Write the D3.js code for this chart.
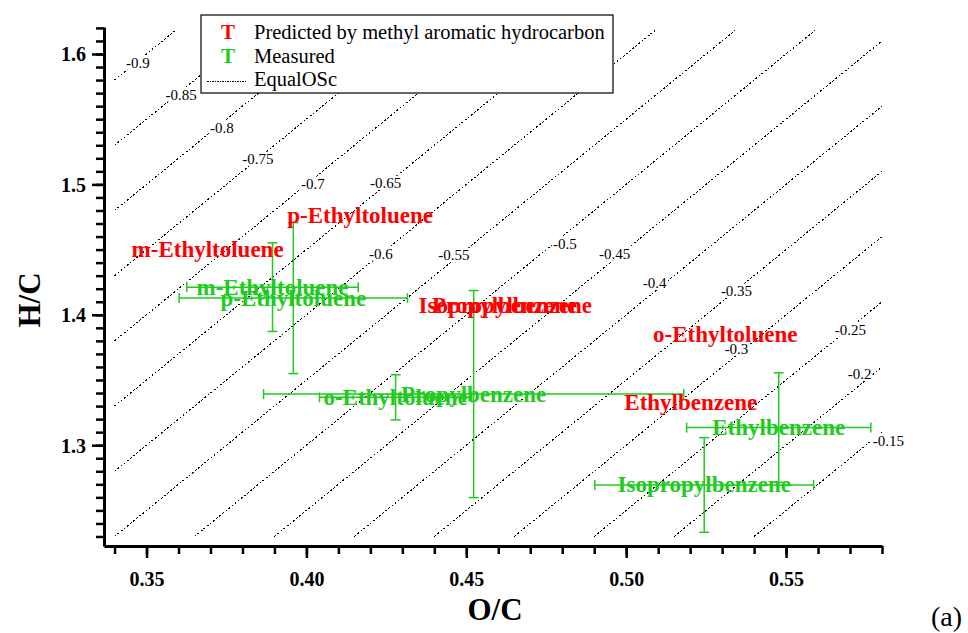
<!DOCTYPE html>
<html>
<head>
<meta charset="utf-8">
<script src="https://cdn.jsdelivr.net/npm/d3@7/dist/d3.min.js"></script>
<style>
  html, body { margin: 0; padding: 0; background: #ffffff; }
  svg { display: block; }
  text { font-family: "Liberation Serif", "Times New Roman", serif; }
</style>
</head>
<body>
<svg id="chart" width="968" height="633"></svg>
<script>
// ---------------- data ----------------
const xTickValues = [0.35, 0.40, 0.45, 0.50, 0.55];
const xTickLabels = ["0.35", "0.40", "0.45", "0.50", "0.55"];
const yTickValues = [1.3, 1.4, 1.5, 1.6];
const yTickLabels = ["1.3", "1.4", "1.5", "1.6"];

const compounds = ["m-Ethyltoluene", "p-Ethyltoluene", "o-Ethyltoluene", "Propylbenzene", "Ethylbenzene", "Isopropylbenzene"];
const predictedOC = [0.3691, 0.4168, 0.5310, 0.4620, 0.5202, 0.4622];
const predictedHC = [1.4502, 1.4761, 1.3846, 1.4069, 1.3325, 1.4069];
const measuredOC = [0.3894, 0.3959, 0.4279, 0.4523, 0.5477, 0.5244];
const measuredHC = [1.4212, 1.4128, 1.3367, 1.3392, 1.3135, 1.2695];
const measuredOCErr = [0.0268, 0.0357, 0.0238, 0.0657, 0.0288, 0.0342];
const measuredHCErr = [0.0340, 0.0579, 0.0173, 0.0794, 0.0420, 0.0363];

const oscLevels = [-0.9, -0.85, -0.8, -0.75, -0.7, -0.65, -0.6, -0.55, -0.5, -0.45, -0.4, -0.35, -0.3, -0.25, -0.2, -0.15];
const oscLabels = ["-0.9", "-0.85", "-0.8", "-0.75", "-0.7", "-0.65", "-0.6", "-0.55", "-0.5", "-0.45", "-0.4", "-0.35", "-0.3", "-0.25", "-0.2", "-0.15"];
const oscLabelOC = [0.3473, 0.3608, 0.3736, 0.3848, 0.4020, 0.4248, 0.4233, 0.4461, 0.4808, 0.4964, 0.5089, 0.5345, 0.5345, 0.5701, 0.5730, 0.5820];
const oscLabelHC = [1.5933, 1.5688, 1.5434, 1.5197, 1.5005, 1.5013, 1.4468, 1.4460, 1.4545, 1.4468, 1.4245, 1.4184, 1.3739, 1.3885, 1.3547, 1.3033];
const oscRangeOC = [0.34, 0.58];
const oscRangeHC = [1.23, 1.618];

const legendLabels = ["Predicted by methyl aromatic hydrocarbon", "Measured", "EqualOSc"];

// ---------------- layout ----------------
const RED = "#ff0000";
const GREEN = "#1ecb1e";
const svg = d3.select("#chart");
const x = d3.scaleLinear().domain([0.3367, 0.58]).range([104, 882]);
const y = d3.scaleLinear().domain([1.2227, 1.6207]).range([546, 27]);

// ---------------- EqualOSc lines ----------------
const lineG = svg.append("g");
oscLevels.forEach(osc => {
  const oc0 = Math.max(oscRangeOC[0], (oscRangeHC[0] + osc) / 2);
  const oc1 = Math.min(oscRangeOC[1], (oscRangeHC[1] + osc) / 2);
  if (oc0 >= oc1) return;
  lineG.append("line")
    .attr("x1", x(oc0)).attr("y1", y(2 * oc0 - osc))
    .attr("x2", x(oc1)).attr("y2", y(2 * oc1 - osc))
    .attr("stroke", "#000").attr("stroke-width", 1)
    .attr("stroke-dasharray", "2,2")
    .attr("shape-rendering", "crispEdges");
});

// ---------------- error bars (measured) ----------------
const barG = svg.append("g").attr("stroke", GREEN).attr("stroke-width", 1.5);
const cap = 5;
compounds.forEach((c, i) => {
  const cx = x(measuredOC[i]), cy = y(measuredHC[i]);
  const xl = x(measuredOC[i] - measuredOCErr[i]), xr = x(measuredOC[i] + measuredOCErr[i]);
  const yt = y(measuredHC[i] + measuredHCErr[i]), yb = y(measuredHC[i] - measuredHCErr[i]);
  barG.append("line").attr("x1", xl).attr("x2", xr).attr("y1", cy).attr("y2", cy);
  barG.append("line").attr("x1", xl).attr("x2", xl).attr("y1", cy - cap).attr("y2", cy + cap);
  barG.append("line").attr("x1", xr).attr("x2", xr).attr("y1", cy - cap).attr("y2", cy + cap);
  barG.append("line").attr("x1", cx).attr("x2", cx).attr("y1", yt).attr("y2", yb);
  barG.append("line").attr("x1", cx - cap).attr("x2", cx + cap).attr("y1", yt).attr("y2", yt);
  barG.append("line").attr("x1", cx - cap).attr("x2", cx + cap).attr("y1", yb).attr("y2", yb);
});

// ---------------- point labels ----------------
const labG = svg.append("g").attr("font-size", 23).attr("font-weight", "bold").attr("text-anchor", "middle");
compounds.forEach((c, i) => {
  labG.append("text").attr("x", x(measuredOC[i])).attr("y", y(measuredHC[i]) + 7.5)
    .attr("fill", GREEN).text(c);
});
compounds.forEach((c, i) => {
  labG.append("text").attr("x", x(predictedOC[i])).attr("y", y(predictedHC[i]) + 7.5)
    .attr("fill", RED).text(c);
});

// ---------------- OSc labels (with white boxes) ----------------
const oscLabG = svg.append("g");
oscLevels.forEach((osc, i) => {
  const g = oscLabG.append("g");
  const t = g.append("text")
    .attr("x", x(oscLabelOC[i])).attr("y", y(oscLabelHC[i]) + 5)
    .attr("text-anchor", "middle").attr("font-size", 15).attr("fill", "#000")
    .text(oscLabels[i]);
  const bb = t.node().getBBox();
  g.insert("rect", "text").attr("x", bb.x - 1).attr("y", bb.y + 1)
    .attr("width", bb.width + 2).attr("height", bb.height - 2).attr("fill", "#fff");
});

// ---------------- axes ----------------
const xMinor = d3.range(34, 59).map(v => v / 100);
const yMinor = d3.range(123, 163).map(v => v / 100);

const xAxisG = svg.append("g").attr("transform", "translate(0,546)");
xAxisG.call(d3.axisBottom(x).tickValues(xMinor).tickSize(8).tickSizeOuter(0).tickFormat(""));
xAxisG.append("g").call(d3.axisBottom(x).tickValues(xTickValues).tickSize(12).tickSizeOuter(0)
  .tickFormat((d, i) => xTickLabels[i]));
xAxisG.selectAll("path.domain").attr("stroke-width", 3).attr("stroke", "#000");
xAxisG.selectAll(".tick line").attr("stroke-width", 2.5).attr("stroke", "#000");
xAxisG.selectAll(".tick text").attr("y", 40).attr("dy", null)
  .attr("font-family", "Liberation Serif").attr("font-size", 20).attr("font-weight", "bold").attr("fill", "#000");

const yAxisG = svg.append("g").attr("transform", "translate(104,0)");
yAxisG.call(d3.axisLeft(y).tickValues(yMinor).tickSize(8).tickSizeOuter(0).tickFormat(""));
yAxisG.append("g").call(d3.axisLeft(y).tickValues(yTickValues).tickSize(12).tickSizeOuter(0)
  .tickFormat((d, i) => yTickLabels[i]));
yAxisG.selectAll("path.domain").attr("stroke-width", 3).attr("stroke", "#000");
yAxisG.selectAll(".tick line").attr("stroke-width", 2.5).attr("stroke", "#000");
yAxisG.selectAll(".tick text").attr("x", -18).attr("dy", 7)
  .attr("font-family", "Liberation Serif").attr("font-size", 20).attr("font-weight", "bold").attr("fill", "#000");
xAxisG.select("g g path.domain").remove();
yAxisG.select("g g path.domain").remove();

// ---------------- axis titles ----------------
svg.append("text").attr("x", 495).attr("y", 620).attr("text-anchor", "middle")
  .attr("font-size", 31).attr("font-weight", "bold").text("O/C");
svg.append("text").attr("transform", "translate(40,300) rotate(-90)").attr("text-anchor", "middle")
  .attr("font-size", 31).attr("font-weight", "bold").text("H/C");
svg.append("text").attr("x", 931).attr("y", 626).attr("font-size", 28).text("(a)");

// ---------------- legend ----------------
const lg = svg.append("g");
lg.append("rect").attr("x", 201).attr("y", 15).attr("width", 412).attr("height", 78)
  .attr("fill", "#fff").attr("stroke", "#000").attr("stroke-width", 1.2);
const rowY = [39, 63, 86];
lg.append("text").attr("x", 228).attr("y", rowY[0]).attr("text-anchor", "middle")
  .attr("font-size", 21).attr("font-weight", "bold").attr("fill", RED).text("T");
lg.append("text").attr("x", 228).attr("y", rowY[1]).attr("text-anchor", "middle")
  .attr("font-size", 21).attr("font-weight", "bold").attr("fill", GREEN).text("T");
lg.append("line").attr("x1", 207).attr("x2", 246).attr("y1", rowY[2] - 5).attr("y2", rowY[2] - 5)
  .attr("stroke", "#000").attr("stroke-width", 1).attr("stroke-dasharray", "1.5,1")
  .attr("shape-rendering", "crispEdges");
legendLabels.forEach((t, i) => {
  lg.append("text").attr("x", 254).attr("y", rowY[i]).attr("font-size", 20.5).attr("fill", "#000").text(t);
});
</script>
</body>
</html>
